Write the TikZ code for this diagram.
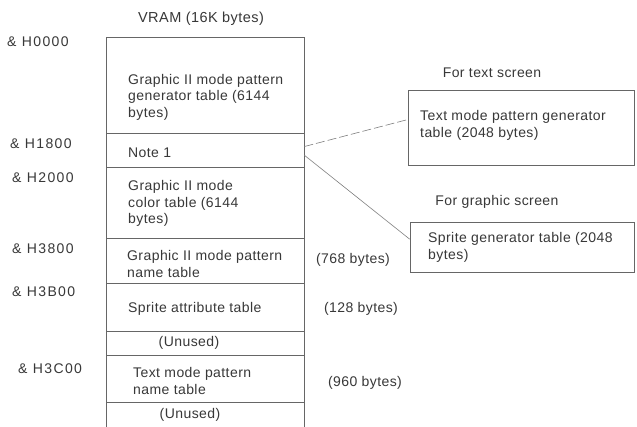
\documentclass[tikz,border=0pt]{standalone}
\usepackage{fontspec}
\setmainfont{Liberation Sans}[LetterSpace=3.0]
\newfontfamily\addrfont{Liberation Sans}[LetterSpace=10.0]
\begin{document}
\begin{tikzpicture}[x=1pt,y=-1pt,
  cell/.style={draw=black!60, line width=0.7pt, minimum width=198pt, inner sep=0pt},
  sidebox/.style={draw=black!60, line width=0.7pt, inner sep=0pt},
  txt/.style={font=\fontsize{14}{16.5}\selectfont, inner sep=0pt, align=left, text=black!78},
  addr/.style={font=\addrfont\fontsize{14}{16.5}\selectfont, inner sep=0pt, text=black!78},
  conn/.style={draw=black!50, line width=0.6pt}]
\useasboundingbox (0,0) rectangle (637,426);
\fill[white] (0,0) rectangle (637,426);

% memory column rows
\node[cell, minimum height=96pt] (r1) at (205,85) {};
\node[cell, minimum height=34pt] (r2) at (205,150) {};
\node[cell, minimum height=71pt] (r3) at (205,202.5) {};
\node[cell, minimum height=45pt] (r4) at (205,260.5) {};
\node[cell, minimum height=48pt] (r5) at (205,307) {};
\node[cell, minimum height=24pt] (r6) at (205,343) {};
\node[cell, minimum height=47pt] (r7) at (205,378.5) {};
\node[cell, minimum height=48pt] (r8) at (205,426) {};

% row texts
\node[txt, anchor=west] (t1) at (128,97) {Graphic II mode pattern\\generator table (6144\\bytes)};
\node[txt, anchor=west] (t2) at (128,153) {Note 1};
\node[txt, anchor=west] (t3) at (128,203.5) {Graphic II mode\\color table (6144\\bytes)};
\node[txt, anchor=west] (t4) at (127,264) {Graphic II mode pattern\\name table};
\node[txt, anchor=west] (t5) at (128,309) {Sprite attribute table};
\node[txt] (t6) at (189,343) {(Unused)};
\node[txt, anchor=west] (t7) at (133,381) {Text mode pattern\\name table};
\node[txt] (t8) at (190,415) {(Unused)};

% heading
\node[txt, font=\fontsize{14.5}{16.5}\selectfont] (head) at (201,19) {VRAM (16K bytes)};

% addresses
\node[addr, anchor=west] (a0) at (7,42) {\& H0000};
\node[addr, anchor=west] (a1) at (10,144) {\& H1800};
\node[addr, anchor=west] (a2) at (12,178) {\& H2000};
\node[addr, anchor=west] (a3) at (12,249) {\& H3800};
\node[addr, anchor=west] (a4) at (12,292) {\& H3B00};
\node[addr, anchor=west] (a5) at (18,369) {\& H3C00};

% sizes
\node[txt] (s1) at (353,260) {(768 bytes)};
\node[txt] (s2) at (361,309) {(128 bytes)};
\node[txt] (s3) at (365,383) {(960 bytes)};

% side boxes
\node[txt] (ft) at (492,73) {For text screen};
\node[sidebox, minimum width=226pt, minimum height=75pt] (tbox) at (521,127.5) {};
\node[txt, anchor=west] (tboxt) at (420,125.5) {Text mode pattern generator\\table (2048 bytes)};

\node[txt] (fg) at (497,202) {For graphic screen};
\node[sidebox, minimum width=224pt, minimum height=50pt] (sbox) at (522,247) {};
\node[txt, anchor=west] (sboxt) at (428,247.5) {Sprite generator table (2048\\bytes)};

% connectors
\draw[conn, dash pattern=on 9pt off 3pt] (r2.2) -- (tbox.176);
\draw[conn] (r2.357) -- (sbox.176);
\end{tikzpicture}
\end{document}
